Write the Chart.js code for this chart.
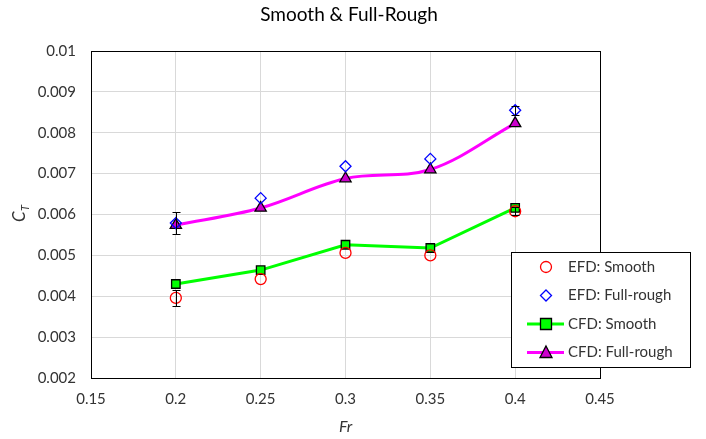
<!DOCTYPE html>
<html>
<head>
<meta charset="utf-8">
<style>
  html, body { margin: 0; padding: 0; background: #fff; }
  #wrap { width: 706px; height: 439px; }
</style>
</head>
<body>
<div id="wrap"><canvas id="myChart" width="706" height="439"></canvas></div>
<script src="https://cdn.jsdelivr.net/npm/chart.js@4.4.2/dist/chart.umd.min.js"></script>
<script>
  // values
  const fr = [0.2, 0.25, 0.3, 0.35, 0.4];
  const efdSmooth = [0.00396, 0.00442, 0.00506, 0.00500, 0.00608];
  const efdSmoothErr = [0.0002, 0, 0, 0, 0.0001];
  const efdRough = [0.00579, 0.0064, 0.00718, 0.00736, 0.00855];
  const efdRoughErr = [0.00027, 0, 0, 0, 0.00011];
  const cfdSmooth = [0.0043, 0.00464, 0.00526, 0.00518, 0.00616];
  const cfdRough = [0.00574, 0.00616, 0.00688, 0.0071, 0.00823];

  const FONT = 'Lato, "Open Sans", sans-serif';
  const TXT = '#333333';

  function pts(ys) {
    return fr.map(function (x, i) { return { x: x, y: ys[i] }; });
  }

  // error bars for the EFD series, placed through the chart's own scales
  const errorBars = {
    id: 'errorBars',
    afterDatasetsDraw(chart) {
      const c = chart.ctx, xs = chart.scales.x, ys = chart.scales.y;
      const sets = [[efdSmooth, efdSmoothErr], [efdRough, efdRoughErr]];
      c.save();
      c.strokeStyle = '#000';
      c.lineWidth = 1;
      sets.forEach(function (s) {
        fr.forEach(function (x, i) {
          const e = s[1][i];
          if (!e) return;
          const px = Math.round(xs.getPixelForValue(x)) + 0.5;
          const top = Math.round(ys.getPixelForValue(s[0][i] + e)) + 0.5;
          const bot = Math.round(ys.getPixelForValue(s[0][i] - e)) + 0.5;
          c.beginPath();
          c.moveTo(px, top); c.lineTo(px, bot);
          c.moveTo(px - 4, top); c.lineTo(px + 4, top);
          c.moveTo(px - 4, bot); c.lineTo(px + 4, bot);
          c.stroke();
        });
      });
      c.restore();
    }
  };

  function symbol(c, style, x, y) {
    c.beginPath();
    if (style === 'circle') {
      c.arc(x, y, 5.5, 0, Math.PI * 2);
      c.strokeStyle = '#ff0000'; c.lineWidth = 1.3; c.stroke();
    } else if (style === 'rectRot') {
      c.moveTo(x, y - 5.5); c.lineTo(x + 5.5, y); c.lineTo(x, y + 5.5); c.lineTo(x - 5.5, y); c.closePath();
      c.strokeStyle = '#0000ff'; c.lineWidth = 1.3; c.stroke();
    } else if (style === 'rect') {
      c.rect(x - 5.5, y - 5.5, 11, 11);
      c.fillStyle = '#00ff00'; c.fill();
      c.strokeStyle = '#000'; c.lineWidth = 1.3; c.stroke();
    } else {
      c.moveTo(x, y - 6.5); c.lineTo(x + 6, y + 5); c.lineTo(x - 6, y + 5); c.closePath();
      c.fillStyle = '#cc00cc'; c.fill();
      c.strokeStyle = '#000'; c.lineWidth = 1.3; c.stroke();
    }
  }

  // titles, plot frame and the boxed legend inside the plot
  const decor = {
    id: 'decor',
    afterDraw(chart) {
      const c = chart.ctx, a = chart.chartArea;
      c.save();
      c.strokeStyle = '#000';
      c.lineWidth = 1;
      c.strokeRect(Math.round(a.left) + 0.5, Math.round(a.top) + 0.5, Math.round(a.right - a.left), Math.round(a.bottom - a.top));

      c.fillStyle = '#000';
      c.textAlign = 'center';
      c.textBaseline = 'middle';
      c.font = '19px ' + FONT;
      c.fillText('Smooth & Full-Rough', 349, 15);

      c.fillStyle = TXT;
      c.font = 'italic 16px ' + FONT;
      c.fillText('Fr', (a.left + a.right) / 2, 427);

      c.save();
      c.translate(20, 214);
      c.rotate(-Math.PI / 2);
      c.textAlign = 'left';
      c.font = 'italic 17px ' + FONT;
      c.fillText('C', -8, 0);
      c.font = 'italic 11px ' + FONT;
      c.fillText('T', 3, 5);
      c.restore();

      // legend
      const lx = 511, ly = 252, lw = 179, lh = 115;
      c.fillStyle = '#fff';
      c.fillRect(lx, ly, lw, lh);
      c.strokeStyle = '#000';
      c.lineWidth = 1;
      c.strokeRect(lx + 0.5, ly + 0.5, lw, lh);
      const items = [
        ['EFD: Smooth', 'circle', null],
        ['EFD: Full-rough', 'rectRot', null],
        ['CFD: Smooth', 'rect', '#00ff00'],
        ['CFD: Full-rough', 'triangle', '#ff00ff']
      ];
      items.forEach(function (it, i) {
        const y = 267 + i * 28.5;
        if (it[2]) {
          c.beginPath();
          c.moveTo(527, y); c.lineTo(564, y);
          c.strokeStyle = it[2]; c.lineWidth = 3; c.stroke();
        }
        symbol(c, it[1], 546, y);
        c.fillStyle = TXT;
        c.font = '15px ' + FONT;
        c.textAlign = 'left';
        c.textBaseline = 'middle';
        c.fillText(it[0], 568, y);
      });
      c.restore();
    }
  };

  const ctx = document.getElementById('myChart');
  const myChart = new Chart(ctx, {
    type: 'line',
    data: {
      datasets: [
        {
          label: 'EFD: Smooth',
          data: pts(efdSmooth),
          showLine: false,
          pointStyle: 'circle',
          pointRadius: 5.5,
          pointBorderWidth: 1.3,
          pointBorderColor: '#ff0000',
          pointBackgroundColor: 'rgba(0,0,0,0)'
        },
        {
          label: 'EFD: Full-rough',
          data: pts(efdRough),
          showLine: false,
          pointStyle: 'rectRot',
          pointRadius: 5.5,
          pointBorderWidth: 1.3,
          pointBorderColor: '#0000ff',
          pointBackgroundColor: 'rgba(0,0,0,0)'
        },
        {
          label: 'CFD: Smooth',
          data: pts(cfdSmooth),
          borderColor: '#00ff00',
          borderWidth: 3,
          tension: 0,
          pointStyle: 'rect',
          pointRadius: 6,
          pointBorderWidth: 1.3,
          pointBorderColor: '#000',
          pointBackgroundColor: '#00ff00'
        },
        {
          label: 'CFD: Full-rough',
          data: pts(cfdRough),
          borderColor: '#ff00ff',
          borderWidth: 3,
          tension: 0.35,
          pointStyle: 'triangle',
          pointRadius: 6.5,
          pointBorderWidth: 1.3,
          pointBorderColor: '#000',
          pointBackgroundColor: '#cc00cc'
        }
      ]
    },
    options: {
      responsive: false,
      animation: false,
      layout: { padding: { top: 51, right: 106, left: 0, bottom: 0 } },
      plugins: { legend: { display: false }, title: { display: false }, tooltip: { enabled: false } },
      scales: {
        x: {
          type: 'linear',
          min: 0.15,
          max: 0.45,
          border: { display: false },
          grid: { color: '#d9d9d9', drawTicks: false },
          afterFit: function (s) { s.height = 61; },
          afterBuildTicks: function (s) {
            s.ticks = [0.15, 0.2, 0.25, 0.3, 0.35, 0.4, 0.45].map(function (v) { return { value: v }; });
          },
          ticks: {
            padding: 12,
            color: TXT,
            font: { family: FONT, size: 15 },
            callback: function (v) { return Number(v.toFixed(2)).toString(); }
          }
        },
        y: {
          min: 0.002,
          max: 0.01,
          border: { display: false },
          grid: { color: '#d9d9d9', drawTicks: false },
          afterFit: function (s) { s.width = 91; },
          afterBuildTicks: function (s) {
            const t = [];
            for (let k = 2; k <= 10; k++) t.push({ value: k / 1000 });
            s.ticks = t;
          },
          ticks: {
            padding: 15,
            color: TXT,
            font: { family: FONT, size: 15 },
            callback: function (v) { return Number(v.toFixed(3)).toString(); }
          }
        }
      }
    },
    plugins: [errorBars, decor]
  });
</script>
</body>
</html>
